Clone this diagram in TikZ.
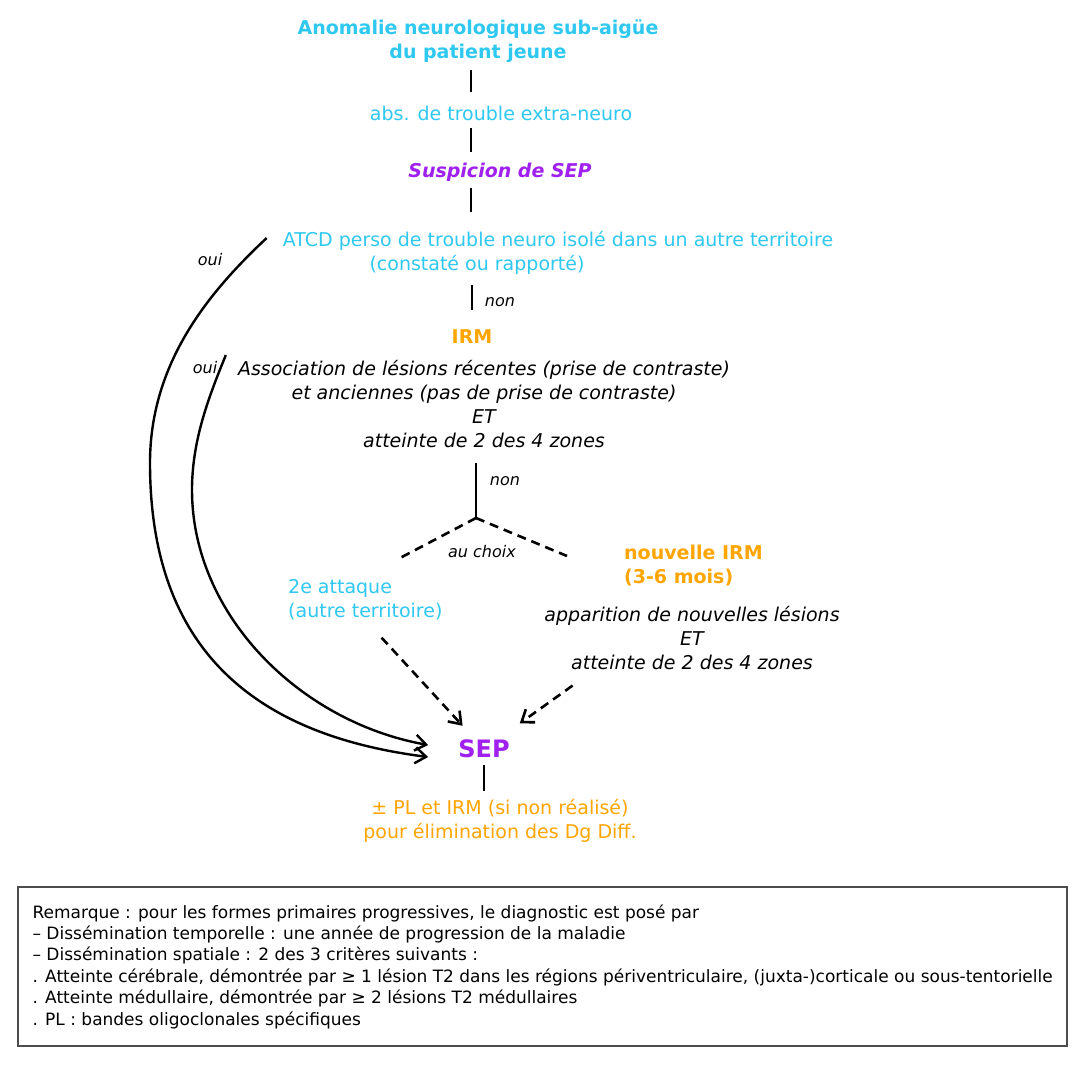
\documentclass[tikz,border=0pt]{standalone}
\usepackage{fontspec}
\setmainfont{DejaVu Sans}
\usetikzlibrary{arrows.meta}

\definecolor{ciel}{HTML}{2EC8F0}
\definecolor{pourpre}{HTML}{A020F0}
\definecolor{orangeirm}{HTML}{FFA500}

\tikzset{
  txt/.style={inner sep=0pt, align=center},
  bleu/.style={txt, text=ciel, font=\fontsize{19}{24}\selectfont},
  bleugras/.style={txt, text=ciel, font=\fontsize{19}{24}\selectfont\bfseries},
  orangegras/.style={txt, text=orangeirm, font=\fontsize{19}{24}\selectfont\bfseries},
  orangetxt/.style={txt, text=orangeirm, font=\fontsize{19}{24}\selectfont},
  critere/.style={txt, font=\fontsize{19}{24}\selectfont\itshape},
  petit/.style={inner sep=0pt, font=\fontsize{16}{19}\selectfont\itshape},
}

\begin{document}
\begin{tikzpicture}[x=1pt, y=-1pt,
  link/.style={line width=2.8pt},
  oui/.style={line width=2.4pt, -{Straight Barb[length=11pt,width=16pt]}},
  choix/.style={line width=2.6pt, dash pattern=on 9pt off 6pt},
  choixfleche/.style={choix, -{Straight Barb[length=11pt,width=16pt]}}]
\fill[white] (0,0) rectangle (1082,1069);
\useasboundingbox (0,0) rectangle (1082,1069);

% du symptome a la suspicion
\node[bleugras] (titre) at (478,41.5) {Anomalie neurologique sub-aigüe\\du patient jeune};
\node[bleu] (abs) at (501,113) {abs. de trouble extra-neuro};
\node[txt, text=pourpre, font=\fontsize{19}{24}\selectfont\bfseries\itshape] (susp) at (500,172) {Suspicion de SEP};
\node[bleu] (atcd) at (558,241) {ATCD perso de trouble neuro isolé dans un autre territoire};
\node[bleu] (atcdsuite) at (477,265) {(constaté ou rapporté)};

% IRM
\node[orangegras] (irm) at (472,337) {IRM};
\node[critere] (assoc) at (484,404) {Association de lésions récentes (prise de contraste)\\et anciennes (pas de prise de contraste)\\ET\\atteinte de 2 des 4 zones};

% au choix
\node[bleu, align=left, anchor=west] (attaque) at (288,599.5) {2e attaque\\(autre territoire)};
\node[orangegras, align=left, anchor=west] (nirm) at (624,566) {nouvelle IRM\\(3-6 mois)};
\node[critere] (appar) at (692,638.5) {apparition de nouvelles lésions\\ET\\atteinte de 2 des 4 zones};

% diagnostic
\node[txt, text=pourpre, font=\fontsize{24}{28}\selectfont\bfseries] (sep) at (484,749) {SEP};
\node[orangetxt] (plirm) at (500,821) {± PL et IRM (si non réalisé)\\pour élimination des Dg Diff.};

% etiquettes
\node[petit] (oui1) at (210,260) {oui};
\node[petit] (oui2) at (205,368) {oui};
\node[petit] (non1) at (500,302) {non};
\node[petit] (non2) at (505,481) {non};
\node[petit] (auchoix) at (482,552) {au choix};

% liens
\coordinate (axe) at (471,0);
\draw[link, shorten <=7pt, shorten >=13.5pt] (titre.south -| axe) -- (abs.north -| axe);
\draw[link, shorten <=7.5pt, shorten >=10.5pt] (abs.south -| axe) -- (susp.north -| axe);
\draw[link, shorten <=6.5pt, shorten >=19.5pt] (susp.south -| axe) -- (atcd.north -| axe);
\draw[link, shorten <=10.5pt, shorten >=20pt] (atcdsuite.south -| irm) -- (irm.north);
\coordinate (fourche) at (476,518);
\coordinate (choixg) at (400,558);
\coordinate (choixd) at (567,556);
\draw[link, shorten <=15pt] (assoc.south -| fourche) -- (fourche);
\draw[choix] (fourche) -- (choixg);
\draw[choix] (fourche) -- (choixd);
\draw[choixfleche, shorten <=24pt, shorten >=19pt] (attaque.south) -- (sep);
\draw[choixfleche, shorten <=26pt, shorten >=28pt] (appar.-162) -- (sep);
\draw[link, shorten <=7pt, shorten >=8.5pt] (sep.south) -- (plirm.north -| sep);

% les deux "oui"
\draw[oui] ([shift={(-16,-3)}]atcd.west) .. controls (208.6,292.4) and (150,363) .. (150,463)
  .. controls (150,650) and (255,735) .. ([shift={(-30,8)}]sep.west);
\draw[oui] ([shift={(-12,-5)}]assoc.north west) .. controls (208.8,396.9) and (192,440) .. (192,490)
  .. controls (192,615) and (300,722) .. ([shift={(-30,-4)}]sep.west);

% remarque
\node[draw=black!70, line width=1.2pt, minimum width=1049pt, minimum height=159pt, inner sep=0pt] (cadre) at (542.5,966.5) {};
\node[anchor=west, inner sep=0pt, align=left, font=\fontsize{17}{21.4}\selectfont] (remarque) at ([xshift=15pt]cadre.west) {Remarque : pour les formes primaires progressives, le diagnostic est posé par\\– Dissémination temporelle : une année de progression de la maladie\\– Dissémination spatiale : 2 des 3 critères suivants :\\. Atteinte cérébrale, démontrée par ≥ 1 lésion T2 dans les régions périventriculaire, (juxta-)corticale ou sous-tentorielle\\. Atteinte médullaire, démontrée par ≥ 2 lésions T2 médullaires\\. PL : bandes oligoclonales spécifiques};
\end{tikzpicture}
\end{document}
